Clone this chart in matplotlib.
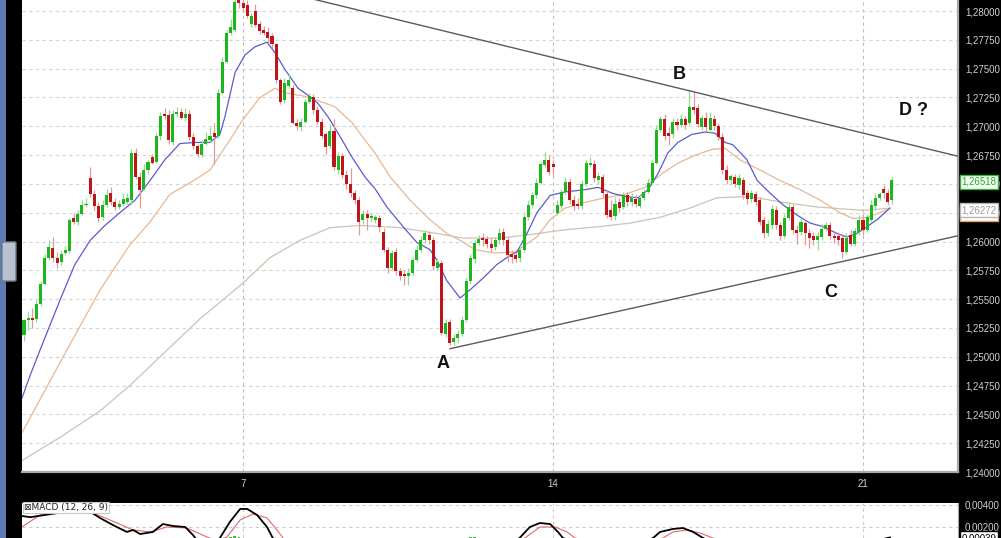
import numpy as np
import matplotlib
matplotlib.use('Agg')
import matplotlib.pyplot as plt
from matplotlib.patches import Rectangle, FancyBboxPatch
from matplotlib.ticker import FuncFormatter

plt.rcParams['font.family'] = ['Liberation Sans', 'DejaVu Sans']

# candles (EUR/USD style quotes)
opens = [1.2519, 1.2532, 1.2534, 1.2533, 1.2546, 1.2563, 1.2586, 1.2594, 1.2586, 1.2582,
         1.2590, 1.2592, 1.2620, 1.2617, 1.2624, 1.2632, 1.2655, 1.2641, 1.2631, 1.2621,
         1.2632, 1.2642, 1.2634, 1.2630, 1.2633, 1.2634, 1.2636, 1.2677, 1.2656, 1.2646,
         1.2662, 1.2673, 1.2669, 1.2692, 1.2711, 1.2710, 1.2686, 1.2711, 1.2712, 1.2707,
         1.2711, 1.2691, 1.2683, 1.2675, 1.2685, 1.2688, 1.2694, 1.2692, 1.2729, 1.2756,
         1.2781, 1.2784, 1.2813, 1.2807, 1.2805, 1.2789, 1.2800, 1.2789, 1.2784, 1.2782,
         1.2778, 1.2771, 1.2740, 1.2723, 1.2735, 1.2733, 1.2703, 1.2699, 1.2704, 1.2721,
         1.2725, 1.2714, 1.2704, 1.2693, 1.2683, 1.2696, 1.2662, 1.2674, 1.2658, 1.2650,
         1.2642, 1.2636, 1.2619, 1.2624, 1.2620, 1.2619, 1.2620, 1.2608, 1.2593, 1.2577,
         1.2591, 1.2574, 1.2572, 1.2570, 1.2573, 1.2584, 1.2593, 1.2601, 1.2606, 1.2601,
         1.2577, 1.2581, 1.2520, 1.2530, 1.2513, 1.2516, 1.2520, 1.2532, 1.2566, 1.2585,
         1.2599, 1.2603, 1.2602, 1.2598, 1.2595, 1.2601, 1.2608, 1.2601, 1.2589, 1.2588,
         1.2586, 1.2593, 1.2621, 1.2632, 1.2640, 1.2651, 1.2666, 1.2671, 1.2667, 1.2625,
         1.2631, 1.2643, 1.2652, 1.2636, 1.2633, 1.2631, 1.2650, 1.2666, 1.2667, 1.2653,
         1.2656, 1.2641, 1.2627, 1.2622, 1.2634, 1.2630, 1.2640, 1.2634, 1.2637, 1.2631,
         1.2638, 1.2643, 1.2651, 1.2668, 1.2697, 1.2706, 1.2694, 1.2693, 1.2704, 1.2701,
         1.2706, 1.2703, 1.2717, 1.2716, 1.2699, 1.2707, 1.2697, 1.2706, 1.2700, 1.2691,
         1.2662, 1.2653, 1.2656, 1.2649, 1.2653, 1.2642, 1.2637, 1.2641, 1.2636, 1.2619,
         1.2607, 1.2614, 1.2627, 1.2614, 1.2605, 1.2620, 1.2630, 1.2610, 1.2608, 1.2616,
         1.2607, 1.2605, 1.2601, 1.2604, 1.2611, 1.2614, 1.2605, 1.2605, 1.2603, 1.2591,
         1.2606, 1.2598, 1.2608, 1.2619, 1.2610, 1.2619, 1.2631, 1.2638, 1.2646, 1.2642,
         1.2636]
highs = [1.2533, 1.2540, 1.2542, 1.2549, 1.2566, 1.2589, 1.2601, 1.2604, 1.2591, 1.2593,
         1.2596, 1.2620, 1.2625, 1.2627, 1.2636, 1.2638, 1.2665, 1.2645, 1.2634, 1.2636,
         1.2646, 1.2647, 1.2638, 1.2636, 1.2642, 1.2642, 1.2680, 1.2681, 1.2660, 1.2667,
         1.2671, 1.2676, 1.2694, 1.2712, 1.2716, 1.2714, 1.2714, 1.2717, 1.2716, 1.2716,
         1.2714, 1.2694, 1.2685, 1.2688, 1.2695, 1.2699, 1.2703, 1.2732, 1.2760, 1.2784,
         1.2793, 1.2819, 1.2820, 1.2814, 1.2810, 1.2798, 1.2806, 1.2791, 1.2787, 1.2786,
         1.2781, 1.2772, 1.2742, 1.2742, 1.2745, 1.2736, 1.2706, 1.2707, 1.2724, 1.2729,
         1.2728, 1.2718, 1.2707, 1.2695, 1.2702, 1.2706, 1.2678, 1.2677, 1.2662, 1.2664,
         1.2645, 1.2639, 1.2627, 1.2627, 1.2625, 1.2623, 1.2623, 1.2612, 1.2595, 1.2593,
         1.2594, 1.2577, 1.2575, 1.2577, 1.2587, 1.2597, 1.2605, 1.2610, 1.2609, 1.2604,
         1.2586, 1.2584, 1.2533, 1.2533, 1.2520, 1.2523, 1.2535, 1.2568, 1.2589, 1.2601,
         1.2606, 1.2607, 1.2605, 1.2603, 1.2604, 1.2612, 1.2612, 1.2604, 1.2593, 1.2591,
         1.2597, 1.2624, 1.2636, 1.2643, 1.2655, 1.2669, 1.2678, 1.2675, 1.2671, 1.2636,
         1.2646, 1.2656, 1.2655, 1.2640, 1.2638, 1.2653, 1.2671, 1.2673, 1.2671, 1.2660,
         1.2659, 1.2645, 1.2636, 1.2639, 1.2638, 1.2643, 1.2643, 1.2642, 1.2641, 1.2641,
         1.2646, 1.2655, 1.2671, 1.2701, 1.2709, 1.2711, 1.2699, 1.2707, 1.2707, 1.2711,
         1.2709, 1.2732, 1.2730, 1.2719, 1.2710, 1.2712, 1.2712, 1.2710, 1.2703, 1.2694,
         1.2666, 1.2659, 1.2659, 1.2659, 1.2656, 1.2645, 1.2645, 1.2644, 1.2639, 1.2622,
         1.2619, 1.2632, 1.2631, 1.2617, 1.2624, 1.2634, 1.2633, 1.2614, 1.2620, 1.2619,
         1.2611, 1.2608, 1.2608, 1.2615, 1.2617, 1.2617, 1.2608, 1.2608, 1.2606, 1.2607,
         1.2610, 1.2612, 1.2623, 1.2624, 1.2624, 1.2636, 1.2642, 1.2643, 1.2649, 1.2646,
         1.2656]
lows = [1.2514, 1.2523, 1.2525, 1.2530, 1.2544, 1.2562, 1.2584, 1.2582, 1.2577, 1.2580,
        1.2588, 1.2590, 1.2615, 1.2614, 1.2623, 1.2630, 1.2639, 1.2627, 1.2617, 1.2619,
        1.2630, 1.2632, 1.2627, 1.2628, 1.2631, 1.2633, 1.2633, 1.2654, 1.2629, 1.2645,
        1.2659, 1.2667, 1.2668, 1.2688, 1.2706, 1.2685, 1.2684, 1.2708, 1.2706, 1.2705,
        1.2688, 1.2680, 1.2673, 1.2673, 1.2684, 1.2686, 1.2667, 1.2690, 1.2728, 1.2755,
        1.2779, 1.2782, 1.2803, 1.2799, 1.2794, 1.2786, 1.2786, 1.2780, 1.2779, 1.2773,
        1.2768, 1.2738, 1.2719, 1.2720, 1.2732, 1.2702, 1.2697, 1.2696, 1.2703, 1.2720,
        1.2711, 1.2702, 1.2690, 1.2676, 1.2681, 1.2662, 1.2659, 1.2655, 1.2646, 1.2639,
        1.2633, 1.2606, 1.2615, 1.2610, 1.2617, 1.2616, 1.2608, 1.2591, 1.2573, 1.2575,
        1.2571, 1.2567, 1.2562, 1.2562, 1.2571, 1.2582, 1.2591, 1.2599, 1.2598, 1.2575,
        1.2575, 1.2519, 1.2517, 1.2510, 1.2510, 1.2512, 1.2518, 1.2530, 1.2563, 1.2581,
        1.2597, 1.2596, 1.2594, 1.2591, 1.2593, 1.2598, 1.2597, 1.2582, 1.2581, 1.2582,
        1.2582, 1.2591, 1.2619, 1.2629, 1.2638, 1.2650, 1.2665, 1.2658, 1.2658, 1.2623,
        1.2628, 1.2641, 1.2633, 1.2627, 1.2628, 1.2628, 1.2648, 1.2665, 1.2652, 1.2650,
        1.2639, 1.2620, 1.2619, 1.2619, 1.2626, 1.2628, 1.2631, 1.2631, 1.2630, 1.2629,
        1.2636, 1.2642, 1.2650, 1.2667, 1.2695, 1.2688, 1.2684, 1.2690, 1.2697, 1.2699,
        1.2698, 1.2701, 1.2711, 1.2699, 1.2697, 1.2695, 1.2694, 1.2697, 1.2688, 1.2659,
        1.2650, 1.2650, 1.2647, 1.2646, 1.2637, 1.2633, 1.2634, 1.2631, 1.2614, 1.2603,
        1.2605, 1.2611, 1.2611, 1.2601, 1.2603, 1.2619, 1.2607, 1.2598, 1.2606, 1.2597,
        1.2594, 1.2597, 1.2593, 1.2601, 1.2609, 1.2602, 1.2599, 1.2597, 1.2586, 1.2589,
        1.2596, 1.2596, 1.2606, 1.2606, 1.2608, 1.2617, 1.2627, 1.2636, 1.2638, 1.2632,
        1.2633]
closes = [1.2532, 1.2534, 1.2532, 1.2546, 1.2563, 1.2586, 1.2595, 1.2586, 1.2581, 1.2589,
          1.2593, 1.2619, 1.2617, 1.2624, 1.2632, 1.2633, 1.2641, 1.2631, 1.2620, 1.2632,
          1.2640, 1.2634, 1.2630, 1.2633, 1.2637, 1.2638, 1.2677, 1.2656, 1.2645, 1.2662,
          1.2669, 1.2668, 1.2692, 1.2709, 1.2709, 1.2688, 1.2711, 1.2712, 1.2707, 1.2711,
          1.2691, 1.2683, 1.2676, 1.2685, 1.2689, 1.2692, 1.2691, 1.2729, 1.2756, 1.2781,
          1.2786, 1.2808, 1.2807, 1.2803, 1.2796, 1.2796, 1.2788, 1.2783, 1.2781, 1.2777,
          1.2771, 1.2740, 1.2721, 1.2738, 1.2740, 1.2703, 1.2700, 1.2704, 1.2721, 1.2726,
          1.2714, 1.2704, 1.2692, 1.2682, 1.2696, 1.2665, 1.2674, 1.2658, 1.2650, 1.2642,
          1.2636, 1.2617, 1.2624, 1.2620, 1.2622, 1.2621, 1.2613, 1.2593, 1.2577, 1.2590,
          1.2574, 1.2570, 1.2570, 1.2573, 1.2584, 1.2593, 1.2601, 1.2607, 1.2601, 1.2579,
          1.2582, 1.2521, 1.2529, 1.2512, 1.2516, 1.2520, 1.2532, 1.2566, 1.2586, 1.2599,
          1.2602, 1.2601, 1.2598, 1.2594, 1.2601, 1.2607, 1.2601, 1.2588, 1.2587, 1.2585,
          1.2593, 1.2621, 1.2632, 1.2640, 1.2651, 1.2667, 1.2671, 1.2660, 1.2665, 1.2632,
          1.2643, 1.2652, 1.2636, 1.2631, 1.2631, 1.2650, 1.2668, 1.2668, 1.2655, 1.2657,
          1.2642, 1.2623, 1.2621, 1.2633, 1.2629, 1.2640, 1.2634, 1.2638, 1.2633, 1.2638,
          1.2643, 1.2651, 1.2668, 1.2697, 1.2706, 1.2692, 1.2692, 1.2704, 1.2701, 1.2706,
          1.2701, 1.2717, 1.2714, 1.2702, 1.2707, 1.2699, 1.2707, 1.2700, 1.2691, 1.2662,
          1.2653, 1.2657, 1.2650, 1.2655, 1.2640, 1.2637, 1.2642, 1.2634, 1.2617, 1.2607,
          1.2615, 1.2628, 1.2614, 1.2605, 1.2620, 1.2630, 1.2610, 1.2607, 1.2617, 1.2607,
          1.2603, 1.2601, 1.2605, 1.2611, 1.2614, 1.2605, 1.2603, 1.2601, 1.2591, 1.2603,
          1.2598, 1.2609, 1.2619, 1.2610, 1.2621, 1.2632, 1.2638, 1.2641, 1.2642, 1.2634,
          1.2653]

# moving averages (x in candle index)
ma_fast_idx = [-0.5, 1.5, 3.9, 8.7, 12.3, 16.0, 19.6, 23.2, 26.9, 30.5, 34.1, 37.7, 41.4,
               45.0, 47.4, 48.6, 51.1, 53.5, 55.9, 58.8, 60.7, 63.2, 66.3, 68.7, 71.1, 73.6,
               76.0, 79.4, 82.5, 84.9, 87.8, 91.7, 95.1, 98.2, 99.9, 102.3, 105.5, 107.9,
               111.0, 114.4, 117.6, 119.3, 121.7, 124.1, 127.3, 130.9, 135.7, 138.9, 142.3,
               145.4, 148.6, 151.0, 153.4, 155.8, 158.2, 161.6, 164.8, 167.2, 169.6, 171.5,
               174.9, 177.4, 180.5, 183.6, 187.0, 190.2, 193.3, 196.7, 199.1, 201.5, 204.0,
               206.4, 209.5]
ma_fast = [1.2464, 1.2484, 1.2506, 1.2549, 1.2580, 1.2601, 1.2614, 1.2625, 1.2636, 1.2653,
           1.2671, 1.2685, 1.2686, 1.2686, 1.2693, 1.2708, 1.2747, 1.2762, 1.2769, 1.2773,
           1.2764, 1.2749, 1.2733, 1.2727, 1.2720, 1.2708, 1.2694, 1.2673, 1.2656, 1.2646,
           1.2630, 1.2613, 1.2599, 1.2593, 1.2584, 1.2566, 1.2551, 1.2558, 1.2568, 1.2580,
           1.2588, 1.2591, 1.2607, 1.2625, 1.2640, 1.2643, 1.2645, 1.2647, 1.2642, 1.2639,
           1.2638, 1.2645, 1.2659, 1.2677, 1.2686, 1.2693, 1.2695, 1.2694, 1.2686, 1.2684,
           1.2671, 1.2653, 1.2642, 1.2632, 1.2623, 1.2616, 1.2613, 1.2607, 1.2604, 1.2607,
           1.2613, 1.2619, 1.2629]
ma_mid_idx = [-0.5, 5.1, 10.4, 18.4, 25.6, 30.5, 35.3, 40.2, 45.0, 49.8, 53.0, 57.1, 60.7,
              63.2, 68.0, 72.1, 75.2, 79.4, 82.5, 84.9, 88.6, 93.4, 98.2, 102.3, 105.5,
              109.1, 114.0, 118.8, 124.1, 127.3, 130.9, 135.7, 140.6, 145.4, 150.3, 154.4,
              158.2, 162.4, 166.5, 169.6, 173.2, 178.1, 182.9, 187.8, 192.6, 197.4, 200.6,
              204.0, 207.1, 209.5]
ma_mid = [1.2434, 1.2471, 1.2506, 1.2558, 1.2597, 1.2617, 1.2641, 1.2651, 1.2662, 1.2688,
          1.2706, 1.2725, 1.2733, 1.2729, 1.2726, 1.2721, 1.2717, 1.2703, 1.2688, 1.2677,
          1.2656, 1.2636, 1.2619, 1.2607, 1.2601, 1.2593, 1.2590, 1.2591, 1.2604, 1.2619,
          1.2629, 1.2634, 1.2638, 1.2641, 1.2647, 1.2659, 1.2668, 1.2675, 1.2680, 1.2681,
          1.2671, 1.2662, 1.2653, 1.2645, 1.2636, 1.2625, 1.2620, 1.2621, 1.2625, 1.2629]
ma_slow_idx = [-0.5, 8.7, 18.4, 25.6, 34.1, 42.6, 53.0, 59.5, 66.8, 74.0, 81.3, 91.0, 99.9,
               106.2, 115.2, 122.4, 130.4, 139.4, 146.6, 153.9, 161.1, 167.7, 175.7, 183.6,
               191.9, 203.0, 209.5]
ma_slow = [1.2410, 1.2430, 1.2453, 1.2475, 1.2504, 1.2533, 1.2564, 1.2586, 1.2601, 1.2612,
           1.2614, 1.2612, 1.2607, 1.2603, 1.2603, 1.2606, 1.2610, 1.2613, 1.2616, 1.2621,
           1.2629, 1.2638, 1.2639, 1.2634, 1.2630, 1.2627, 1.2629]

# trend lines and wave labels
upper_idx = [70.4, 226.0]
upper_val = [1.2810, 1.2674]
lower_idx = [103.1, 226.0]
lower_val = [1.2507, 1.2605]
wave_labels = ['A', 'B', 'C', 'D ?']
wave_idx = [101.4, 158.5, 195.3, 215.1]
wave_price = [1.2494, 1.2745, 1.2556, 1.2714]

day_ticks = [53, 128, 203]
day_labels = ['7', '14', '21']

# MACD (12, 26, 9)
macd_idx = [-0.5, 1.5, 8.7, 16.5, 18.4, 21.5, 24.9, 26.4, 28.1, 31.2, 33.6, 36.1, 39.0,
            40.9, 42.6, 45.7, 47.4, 49.8, 52.3, 54.0, 56.4, 58.8, 60.2, 66.8, 103.1, 119.9,
            122.4, 124.8, 127.3, 129.2, 130.4, 137.0, 149.0, 152.2, 153.9, 157.0, 159.4,
            161.9, 164.3, 173.0, 187.8, 199.9, 207.8, 209.5]
macd_val = [0.00300, 0.00289, 0.00330, 0.00327, 0.00282, 0.00218, 0.00155, 0.00173,
            0.00136, 0.00155, 0.00227, 0.00209, 0.00200, 0.00127, 0.00040, 0.00040,
            0.00100, 0.00245, 0.00364, 0.00364, 0.00309, 0.00200, 0.00100, -0.00050,
            -0.00250, 0.00100, 0.00200, 0.00236, 0.00227, 0.00155, 0.00100, 0.00000,
            0.00040, 0.00100, 0.00155, 0.00182, 0.00191, 0.00155, 0.00100, -0.00080,
            -0.00120, -0.00020, 0.00090, 0.00105]
sig_idx = [-0.5, 3.9, 8.7, 16.7, 20.8, 26.4, 30.5, 34.6, 39.4, 44.3, 46.7, 49.1, 52.3,
           55.4, 58.8, 61.2, 62.7, 66.8, 103.1, 121.2, 124.8, 128.5, 131.4, 133.3, 139.4,
           151.5, 154.6, 157.0, 160.4, 163.6, 166.7, 175.7, 192.6, 209.5]
sig_val = [0.00200, 0.00309, 0.00345, 0.00327, 0.00264, 0.00173, 0.00155, 0.00200,
           0.00191, 0.00109, 0.00073, 0.00109, 0.00264, 0.00318, 0.00282, 0.00173,
           0.00100, -0.00050, -0.00250, 0.00100, 0.00200, 0.00200, 0.00155, 0.00100,
           0.00030, 0.00060, 0.00100, 0.00155, 0.00173, 0.00145, 0.00100, -0.00020,
           -0.00080, 0.00030]
hist_idx = [50, 51, 52, 107, 108, 109]
hist_val = [0.00105, 0.00118, 0.00110, 0.00104, 0.00112, 0.00106]

W, H = 1001, 538
fig = plt.figure(figsize=(W / 100, H / 100), dpi=100, facecolor='black')

# left window strip
fig.add_artist(Rectangle((0, 0), 6 / W, 1, transform=fig.transFigure,
                         facecolor='#5a7cb2', edgecolor='none'))
fig.add_artist(FancyBboxPatch((4 / W, 258 / H), 10 / W, 37 / H, boxstyle='round,pad=0.002',
                              transform=fig.transFigure, facecolor='#b9c3cf',
                              edgecolor='#6d7887', lw=1))

xlim = (-0.48, 225.98)
price_fmt = FuncFormatter(lambda v, p: f'{v:.5f}'.replace('.', ','))

ax = fig.add_axes([22 / W, 66 / H, 936 / W, 472 / H])
ax.set_facecolor('white')
ax.set_xlim(*xlim)
ax.set_ylim(1.2400, 1.28096)

o = np.array(opens)
h = np.array(highs)
l = np.array(lows)
c = np.array(closes)
x = np.arange(len(o))
up = c >= o
body = np.maximum(np.abs(c - o), 0.00005)

ax.vlines(x[up], l[up], h[up], color='#8fdb8f', lw=0.9, zorder=3)
ax.vlines(x[~up], l[~up], h[~up], color='#e09a9a', lw=0.9, zorder=3)
ax.bar(x[up], body[up], bottom=o[up], width=0.74, color='#1fb51f', lw=0, zorder=4)
ax.bar(x[~up], body[~up], bottom=c[~up], width=0.74, color='#c0141c', lw=0, zorder=4)

ax.plot(ma_slow_idx, ma_slow, color='#cfc2b4', lw=0.9, zorder=2)
ax.plot(ma_mid_idx, ma_mid, color='#e7b894', lw=0.9, zorder=2)
ax.plot(ma_fast_idx, ma_fast, color='#5a5ad2', lw=0.9, zorder=2)

ax.plot(upper_idx, upper_val, color='#5a5a5a', lw=1.0, zorder=5)
ax.plot(lower_idx, lower_val, color='#5a5a5a', lw=1.0, zorder=5)

for lab, xi, yp in zip(wave_labels, wave_idx, wave_price):
    ax.text(xi, yp, lab, fontsize=13, fontweight='bold', ha='center', va='center',
            color='#111111', zorder=6)

ax.yaxis.tick_right()
ax.set_yticks(np.arange(1.2400, 1.28001, 0.0025))
ax.yaxis.set_major_formatter(price_fmt)
ax.set_xticks(day_ticks)
ax.set_xticklabels(day_labels)
ax.tick_params(axis='y', length=0, pad=5, labelsize=7, labelcolor='#d0d0d0')
ax.tick_params(axis='x', length=0, pad=5, labelsize=7, labelcolor='#d0d0d0')
ax.grid(axis='y', color='#d4d4d4', ls=(0, (3, 3)), lw=0.8)
ax.grid(axis='x', color='#bdbdbd', ls=(0, (3, 3)), lw=0.8)
ax.set_axisbelow(True)
for side in ['top', 'left']:
    ax.spines[side].set_visible(False)
for side in ['bottom', 'right']:
    ax.spines[side].set_color('#a9a9a9')
    ax.spines[side].set_linewidth(1.6)

# last price markers on the price scale
ytr = ax.get_yaxis_transform()
ax.text(1.004, 1.26518, '1,26518', transform=ytr, fontsize=7, color='#2aa52a', va='center',
        clip_on=False, zorder=7,
        bbox=dict(boxstyle='square,pad=0.18', fc='#f4fff4', ec='#38b238', lw=1))
ax.text(1.004, 1.26240, '1,26240', transform=ytr, fontsize=7, color='#d08a40', va='center',
        clip_on=False, zorder=7,
        bbox=dict(boxstyle='square,pad=0.18', fc='white', ec='#e3a25c', lw=1))
ax.text(1.004, 1.26272, '1,26272', transform=ytr, fontsize=7, color='#9a9a9a', va='center',
        clip_on=False, zorder=8,
        bbox=dict(boxstyle='square,pad=0.18', fc='white', ec='#b8b8b8', lw=1))

# MACD panel
mx = fig.add_axes([22 / W, 0, 936 / W, 35 / H])
mx.set_facecolor('white')
mx.set_xlim(*xlim)
mx.set_ylim(0.00100, 0.00418)
mx.bar(hist_idx, hist_val, width=0.62, color='#35c035', lw=0, zorder=2)
mx.plot(sig_idx, sig_val, color='#e06a6a', lw=0.8, zorder=3)
mx.plot(macd_idx, macd_val, color='black', lw=1.3, zorder=4)
mx.yaxis.tick_right()
mx.set_yticks([0.002, 0.004])
mx.yaxis.set_major_formatter(price_fmt)
mx.set_xticks(day_ticks)
mx.set_xticklabels([])
mx.tick_params(axis='both', length=0, pad=5, labelsize=7, labelcolor='#d0d0d0')
mx.grid(axis='both', color='#cccccc', ls=(0, (3, 3)), lw=0.8)
mx.set_axisbelow(True)
for side in ['top', 'left', 'bottom']:
    mx.spines[side].set_visible(False)
mx.spines['right'].set_color('#a9a9a9')
mx.text(0.002, 0.86, '\u22a0MACD (12, 26, 9)', transform=mx.transAxes, fontsize=6.5,
        va='center', color='#222222', family=['DejaVu Sans'], zorder=6,
        bbox=dict(boxstyle='square,pad=0.12', fc='white', ec='#c8c8c8', lw=0.8))
mx.text(1.004, 0.00098, '0,00039', transform=mx.get_yaxis_transform(), fontsize=7,
        color='black', va='center', clip_on=False, zorder=7,
        bbox=dict(boxstyle='square,pad=0.18', fc='white', ec='black', lw=1))

fig.savefig('out.png', dpi=100, facecolor='black')
